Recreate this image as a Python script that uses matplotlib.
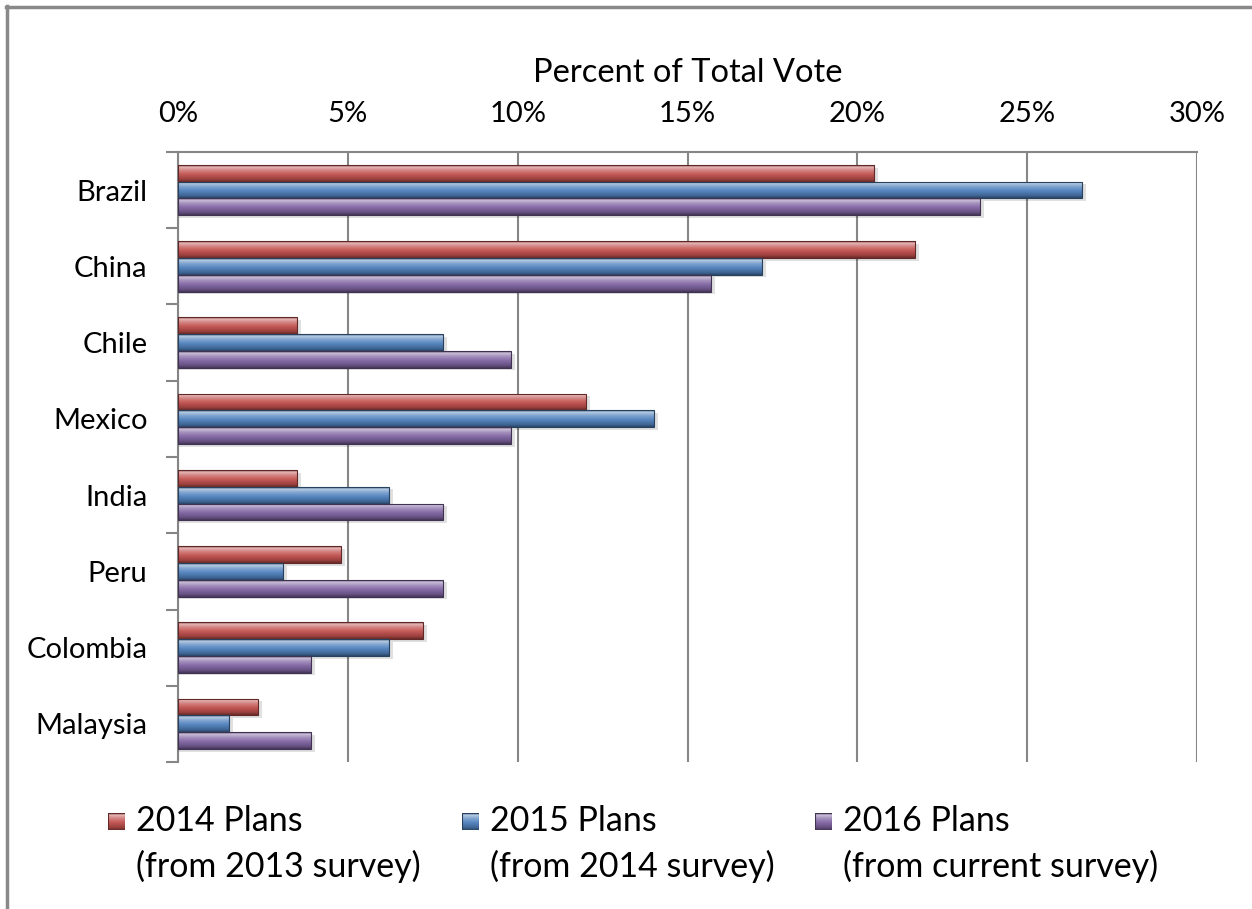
import numpy as np
import matplotlib
matplotlib.use("Agg")
import matplotlib.pyplot as plt
from matplotlib.ticker import PercentFormatter, FixedLocator
from matplotlib.patches import Rectangle
from matplotlib.lines import Line2D
from matplotlib.colors import to_rgb

plt.rcParams['font.family'] = ['Lato', 'DejaVu Sans']

countries = ["Brazil", "China", "Chile", "Mexico", "India", "Peru", "Colombia", "Malaysia"]
plans_2014 = [20.5, 21.7, 3.5, 12.0, 3.5, 4.8, 7.2, 2.35]
plans_2015 = [26.6, 17.2, 7.8, 14.0, 6.2, 3.1, 6.2, 1.5]
plans_2016 = [23.6, 15.7, 9.8, 9.8, 7.8, 7.8, 3.9, 3.9]
series_labels = ["2014 Plans\n(from 2013 survey)",
                 "2015 Plans\n(from 2014 survey)",
                 "2016 Plans\n(from current survey)"]
series_colors = ["#C0504D", "#4F81BD", "#8064A2"]
x_ticks = [0, 5, 10, 15, 20, 25, 30]


def bevel_gradient(color, n=40):
    """Vertical colour profile giving a rounded, bevelled bar look."""
    base = np.array(to_rgb(color))
    white = np.ones(3)
    dark = base * 0.55
    stops = [(0.00, dark),
             (0.10, base * 0.4 + white * 0.6),
             (0.30, base * 0.7 + white * 0.3),
             (0.55, base * 0.95 + white * 0.05),
             (0.85, base * 0.8),
             (1.00, dark)]
    t = np.linspace(0, 1, n)
    img = np.zeros((n, 1, 3))
    for c in range(3):
        img[:, 0, c] = np.interp(t, [s[0] for s in stops], [s[1][c] for s in stops])
    return img


fig = plt.figure(figsize=(12.52, 9.09), dpi=100)
ax = fig.add_axes([0.1422, 0.1617, 0.9561 - 0.1422, 0.8328 - 0.1617])

y = np.arange(len(countries))
h = 0.22
offsets = [-0.22, 0.0, 0.22]
all_series = [plans_2014, plans_2015, plans_2016]

for vals, off, col in zip(all_series, offsets, series_colors):
    grad = bevel_gradient(col)
    for yi, v in zip(y, vals):
        yc = yi + off
        # soft drop shadow
        ax.barh(yc + 0.035, v + 0.12, height=h, left=0, color="#000000",
                alpha=0.12, linewidth=0, zorder=2)
        bar = ax.barh(yc, v, height=h, left=0, color="none",
                      edgecolor=tuple(np.array(to_rgb(col)) * 0.5),
                      linewidth=0.8, zorder=4)[0]
        im = ax.imshow(grad, extent=[0, v, yc + h / 2, yc - h / 2],
                       aspect="auto", origin="upper", zorder=3,
                       interpolation="bilinear")
        im.set_clip_path(bar)

ax.set_xlim(0, 30)
ax.set_ylim(len(countries) - 0.5, -0.5)

# x axis on top
ax.xaxis.tick_top()
ax.xaxis.set_label_position('top')
ax.set_xticks(x_ticks)
ax.xaxis.set_major_formatter(PercentFormatter(decimals=0))
ax.tick_params(axis='x', length=0, pad=18, labelsize=21, colors="#000000")
ax.set_xlabel("Percent of Total Vote", fontsize=23.5, labelpad=14)
ax.grid(axis='x', color="#868686", linewidth=1.5, zorder=1)
ax.set_axisbelow(True)

# y axis: categories with boundary ticks
ax.set_yticks(y)
ax.set_yticklabels(countries)
ax.yaxis.set_minor_locator(FixedLocator(np.arange(-0.5, len(countries), 1.0)))
ax.tick_params(axis='y', which='major', length=0, pad=22, labelsize=21)
ax.tick_params(axis='y', which='minor', length=9, width=1.5, color="#868686")

for s in ["bottom", "right"]:
    ax.spines[s].set_visible(False)
for s in ["top", "left"]:
    ax.spines[s].set_color("#868686")
    ax.spines[s].set_linewidth(1.5)

# legend drawn as swatches with two-line labels
leg_x = [108, 462, 815]
W, H = 1252, 909
for lx, lab, col in zip(leg_x, series_labels, series_colors):
    grad = bevel_gradient(col)
    sw = fig.add_axes([lx / W, 1 - 830 / H, 17 / W, 17 / H])
    sw.imshow(grad, aspect="auto", interpolation="bilinear")
    sw.set_axis_off()
    sw.add_patch(Rectangle((-0.5, -0.5), 1, 40, fill=False,
                           edgecolor=tuple(np.array(to_rgb(col)) * 0.5), linewidth=0.8))
    first, second = lab.split("\n")
    fig.text((lx + 28) / W, 1 - 821 / H, first, fontsize=24.5, va="center", ha="left")
    fig.text((lx + 28) / W, 1 - 866 / H, second, fontsize=24.5, va="center", ha="left")

# frame lines along top and left edge
fig.add_artist(Line2D([6 / W, 1.0], [1 - 7 / H, 1 - 7 / H], color="#898989", linewidth=2.5))
fig.add_artist(Line2D([7 / W, 7 / W], [0, 1 - 6 / H], color="#898989", linewidth=2.5))

fig.savefig("out.png", dpi=100)
